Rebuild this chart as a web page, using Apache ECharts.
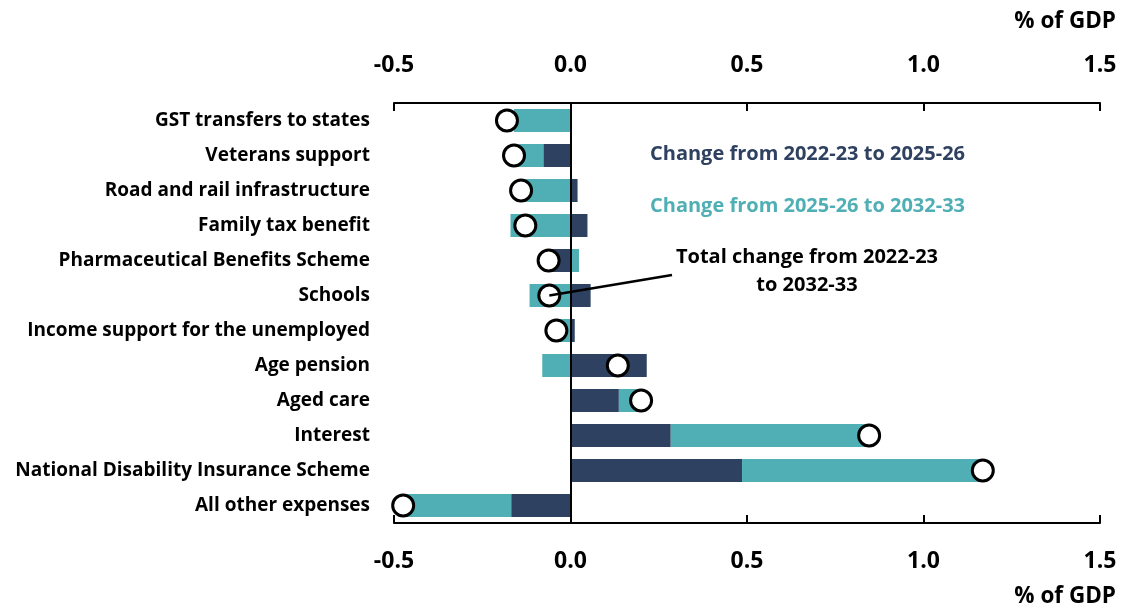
<!DOCTYPE html>
<html>
<head>
<meta charset="utf-8">
<title>Change in payments</title>
<script src="https://cdn.jsdelivr.net/npm/echarts@6/dist/echarts.min.js"></script>
<style>
    html, body { margin: 0; padding: 0; background: #fff; }
    #main { width: 1134px; height: 612px; }
</style>
</head>
<body>
<div id="main"></div>
<script>
// 数据
var categories = ['GST transfers to states', 'Veterans support', 'Road and rail infrastructure',
    'Family tax benefit', 'Pharmaceutical Benefits Scheme', 'Schools',
    'Income support for the unemployed', 'Age pension', 'Aged care', 'Interest',
    'National Disability Insurance Scheme', 'All other expenses'];
// Change from 2022-23 to 2025-26
var firstPeriod = [0, -0.077, 0.02, 0.048, -0.065, 0.057, 0.012, 0.216, 0.137, 0.284, 0.486, -0.168];
// Change from 2025-26 to 2032-33
var secondPeriod = [-0.16, -0.08, -0.15, -0.17, 0.024, -0.116, -0.05, -0.08, 0.063, 0.56, 0.68, -0.305];
// Total change from 2022-23 to 2032-33
var totalChange = [-0.18, -0.16, -0.14, -0.128, -0.062, -0.06, -0.04, 0.134, 0.2, 0.846, 1.168, -0.474];
var tickValues = [-0.5, 0, 0.5, 1.0, 1.5];

var navy = '#2e4160';
var teal = '#4fafb4';
var font = 'Open Sans';

// 两根x轴（上、下），样式一样
function valueAxis(pos, margin) {
    return {
        type: 'value',
        position: pos,
        min: tickValues[0],
        max: tickValues[tickValues.length - 1],
        interval: 0.5,
        axisLine: { show: true, lineStyle: { color: '#000', width: 2 } },
        axisTick: { show: true, inside: true, length: 8, lineStyle: { color: '#000', width: 2 } },
        splitLine: { show: false },
        axisLabel: {
            margin: margin,
            color: '#000',
            fontFamily: font,
            fontWeight: 'bold',
            fontSize: 23,
            formatter: function (v) { return v.toFixed(1); }
        }
    };
}

var myChart = echarts.init(document.getElementById('main'));
var option = {
    animation: false,
    grid: { left: 394, right: 34, top: 103, bottom: 89, containLabel: false },
    xAxis: [valueAxis('bottom', 27), valueAxis('top', 26)],
    yAxis: {
        type: 'category',
        data: categories,
        inverse: true,
        axisLine: { show: false },
        axisTick: { show: false },
        axisLabel: {
            margin: 24,
            color: '#000',
            fontFamily: font,
            fontWeight: 'bold',
            fontSize: 19
        }
    },
    series: [
        {
            name: 'Change from 2022-23 to 2025-26',
            type: 'bar',
            stack: 'total',
            barWidth: 23,
            itemStyle: { color: navy },
            data: firstPeriod,
            // 0 处的竖线
            markLine: {
                silent: true,
                symbol: 'none',
                label: { show: false },
                lineStyle: { color: '#000', width: 2, type: 'solid' },
                data: [{ xAxis: 0 }]
            }
        },
        {
            name: 'Change from 2025-26 to 2032-33',
            type: 'bar',
            stack: 'total',
            barWidth: 23,
            itemStyle: { color: teal },
            data: secondPeriod
        },
        {
            name: 'Total change from 2022-23 to 2032-33',
            type: 'scatter',
            symbol: 'circle',
            symbolSize: 21,
            z: 5,
            itemStyle: { color: '#fff', borderColor: '#000', borderWidth: 3, opacity: 1 },
            data: totalChange
        }
    ]
};
myChart.setOption(option);

// 图例文字和引线
var from = myChart.convertToPixel({ xAxisIndex: 0, yAxisIndex: 0 }, [totalChange[5], categories[5]]);
var txt = { fontFamily: font, fontWeight: 'bold', fontSize: 20 };
var unit = { fontFamily: font, fontWeight: 'bold', fontSize: 22.5, fill: '#000', text: '% of GDP' };
myChart.setOption({
    graphic: [
        { type: 'text', right: 18, top: 10, style: unit },
        { type: 'text', right: 18, top: 585, style: unit },
        { type: 'text', left: 650, top: 144, style: Object.assign({ text: 'Change from 2022-23 to 2025-26', fill: navy }, txt) },
        { type: 'text', left: 650, top: 196, style: Object.assign({ text: 'Change from 2025-26 to 2032-33', fill: teal }, txt) },
        { type: 'text', x: 807, y: 243, style: Object.assign({ text: 'Total change from 2022-23\nto 2032-33', fill: '#000', align: 'center', lineHeight: 28 }, txt) },
        { type: 'line', z: 10, shape: { x1: from[0], y1: from[1], x2: 672, y2: 275 }, style: { stroke: '#000', lineWidth: 2.5 } }
    ]
});
</script>
</body>
</html>
